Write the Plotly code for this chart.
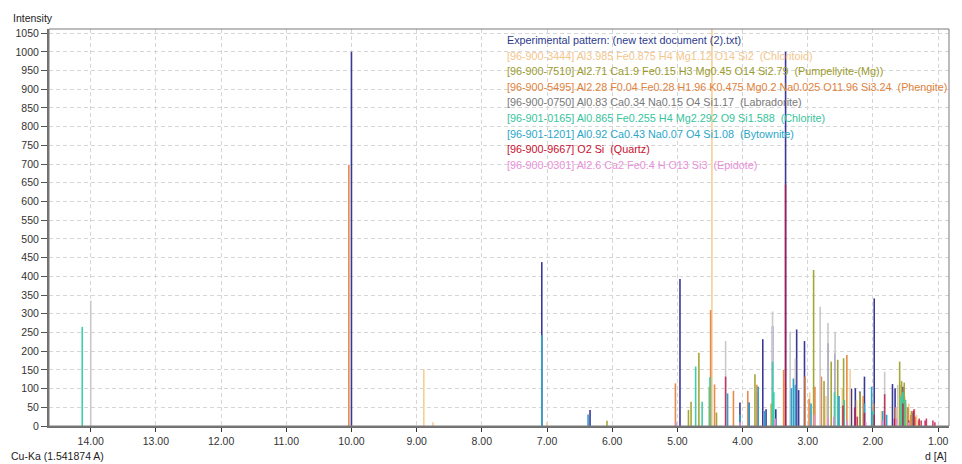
import plotly.graph_objects as go

# ---------------- data (d-spacing in Angstrom, intensity) ----------------
exp_d = [10.00, 7.08, 6.34, 4.96, 4.04, 3.90, 3.69, 3.64, 3.54, 3.49, 3.34, 3.17, 3.14, 3.05,
         2.69, 2.58, 2.33, 2.27, 2.20, 2.13, 1.98, 1.70, 1.66, 1.54]
exp_i = [1000, 438, 43, 393, 63, 63, 232, 45, 267, 45, 1000, 258, 96, 227,
         221, 194, 100, 101, 92, 132, 341, 112, 101, 105]

chloritoid_d = [8.89, 8.75, 7.00, 4.47, 3.36, 2.97, 2.72, 2.47, 2.35, 2.25, 1.87, 1.58, 1.51, 1.45, 1.40,
                1.36, 1.33]
chloritoid_i = [152, 10, 10, 1060, 120, 90, 80, 100, 150, 70, 40, 110, 80, 60, 40,
                45, 30]

pumpellyite_d = [6.08, 4.83, 4.79, 4.67, 4.51, 4.40, 3.81, 3.56, 2.91, 2.75, 2.64, 2.54, 2.45, 2.20,
                 1.59, 1.56, 1.52, 1.47, 1.41]
pumpellyite_i = [14, 43, 65, 196, 105, 36, 138, 60, 417, 120, 172, 177, 181, 90,
                 172, 120, 116, 50, 40]

phengite_d = [10.04, 5.03, 4.49, 4.43, 4.14, 3.92, 3.78, 3.76, 3.37, 3.04, 2.98, 2.89, 2.79, 2.40,
              2.15, 1.99, 1.65, 1.50, 1.46, 1.42, 1.35, 1.30]
phengite_i = [698, 114, 310, 111, 94, 94, 110, 87, 150, 132, 72, 105, 132, 190,
              80, 60, 50, 60, 50, 30, 25, 15]

labradorite_d = [14.00, 4.26, 3.54, 3.27, 3.19, 2.81, 2.69, 2.58, 1.82, 1.62]
labradorite_i = [335, 227, 306, 252, 180, 319, 275, 252, 145, 110]

chlorite_d = [14.13, 4.72, 4.62, 4.50, 3.54, 3.52, 2.59, 2.54, 2.44, 2.00, 1.57, 1.54, 1.50, 1.39]
chlorite_i = [265, 159, 65, 131, 172, 90, 90, 80, 70, 40, 80, 90, 70, 35]

bytownite_d = [7.08, 6.37, 4.23, 4.04, 3.90, 3.76, 3.66, 3.25, 3.22, 3.19, 2.95, 2.52, 2.13, 2.02, 1.85, 1.79]
bytownite_i = [243, 31, 87, 30, 60, 105, 40, 101, 127, 110, 60, 80, 60, 105, 40, 30]

quartz_d = [4.26, 3.34, 2.46, 2.28, 2.24, 2.13, 1.98, 1.82, 1.67, 1.54, 1.45, 1.38, 1.37, 1.29,
            1.26, 1.20, 1.18, 1.08, 1.05]
quartz_i = [132, 645, 55, 50, 25, 35, 30, 85, 20, 60, 15, 40, 45, 20,
            15, 15, 20, 15, 10]

epidote_d = [5.02, 4.04, 3.50, 2.90, 2.69, 2.60, 2.40, 2.11, 1.86, 1.64, 1.45]
epidote_i = [10, 10, 20, 30, 20, 25, 15, 10, 15, 20, 10]

legend_texts = [
    "Experimental pattern: (new text document (2).txt)",
    "[96-900-3444] Al3.985 Fe0.875 H4 Mg1.12 O14 Si2  (Chloritoid)",
    "[96-900-7510] Al2.71 Ca1.9 Fe0.15 H3 Mg0.45 O14 Si2.79  (Pumpellyite-(Mg))",
    "[96-900-5495] Al2.28 F0.04 Fe0.28 H1.96 K0.475 Mg0.2 Na0.025 O11.96 Si3.24  (Phengite)",
    "[96-900-0750] Al0.83 Ca0.34 Na0.15 O4 Si1.17  (Labradorite)",
    "[96-901-0165] Al0.865 Fe0.255 H4 Mg2.292 O9 Si1.588  (Chlorite)",
    "[96-901-1201] Al0.92 Ca0.43 Na0.07 O4 Si1.08  (Bytownite)",
    "[96-900-9667] O2 Si  (Quartz)",
    "[96-900-0301] Al2.6 Ca2 Fe0.4 H O13 Si3  (Epidote)",
]

series = [
    (exp_d, exp_i, "#3a3896", "#2c3a8c"),
    (chloritoid_d, chloritoid_i, "#f6cf98", "#f3c68c"),
    (pumpellyite_d, pumpellyite_i, "#a6a636", "#9a9a2e"),
    (phengite_d, phengite_i, "#e58a48", "#e0823c"),
    (labradorite_d, labradorite_i, "#c9c9cc", "#787878"),
    (chlorite_d, chlorite_i, "#3ccfa6", "#36c49c"),
    (bytownite_d, bytownite_i, "#2f9fcc", "#2aa6c8"),
    (quartz_d, quartz_i, "rgba(190,20,70,0.8)", "#c8102e"),
    (epidote_d, epidote_i, "#e88ad8", "#e890d8"),
]

fig = go.Figure()
for d, inten, col, _ in series:
    xs, ys = [], []
    for dv, iv in zip(d, inten):
        xs += [dv, dv, None]
        ys += [0, iv, None]
    fig.add_trace(go.Scatter(x=xs, y=ys, mode="lines", line=dict(color=col, width=1.6),
                             hoverinfo="skip", showlegend=False))

FONT = "Liberation Sans, Arial, sans-serif"

# legend text block (plot area: x 49..949, y 29..426 px of the window)
for k, ((_, _, _, tcol), txt) in enumerate(zip(series, legend_texts)):
    ypx = 40 + k * 15.6
    fig.add_annotation(x=(505 - 49) / 900, y=(426 - ypx) / 397, xref="paper", yref="paper",
                       text=txt, showarrow=False, xanchor="left", yanchor="middle",
                       font=dict(family=FONT, size=10.8, color=tcol))

fig.add_annotation(x=-38 / 900, y=(426 - 18) / 397, xref="paper", yref="paper", text="Intensity",
                   showarrow=False, xanchor="left", yanchor="middle",
                   font=dict(family=FONT, size=10.5, color="#222"))
fig.add_annotation(x=-40 / 900, y=(426 - 456) / 397, xref="paper", yref="paper",
                   text="Cu-Ka (1.541874 A)", showarrow=False, xanchor="left", yanchor="middle",
                   font=dict(family=FONT, size=10.5, color="#222"))
fig.add_annotation(x=1.0, y=(426 - 456) / 397, xref="paper", yref="paper", text="d [A]",
                   showarrow=False, xanchor="right", yanchor="middle",
                   font=dict(family=FONT, size=10.5, color="#222"))

# frame
fig.add_shape(type="rect", xref="paper", yref="paper", x0=0, y0=0, x1=1, y1=1,
              line=dict(color="#7a7a7a", width=1), layer="above")

# page body has an 8px margin: compensate so the plot lands at x 49..949, y 29..426
fig.update_layout(
    width=954, height=456,
    margin=dict(l=41, r=13, t=21, b=38),
    paper_bgcolor="white", plot_bgcolor="white",
    font=dict(family=FONT, size=10.5, color="#333"),
    showlegend=False,
)
fig.update_xaxes(range=[14.64, 0.833], tick0=0, dtick=1, tickformat=".2f",
                 ticks="outside", ticklen=4, tickcolor="#333",
                 showline=True, linecolor="#707070", linewidth=2,
                 showgrid=True, gridcolor="#d6d6d6", griddash="4px,3px", gridwidth=1,
                 zeroline=False, automargin=False, tickfont=dict(size=10.5, color="#333"))
fig.update_yaxes(range=[0, 1061], tick0=0, dtick=50,
                 ticks="outside", ticklen=6, tickcolor="#555",
                 showline=True, linecolor="#707070", linewidth=2,
                 showgrid=True, gridcolor="#d6d6d6", griddash="4px,3px", gridwidth=1,
                 zeroline=False, automargin=False, tickfont=dict(size=10.5, color="#333"))

fig.write_html("out.html")
